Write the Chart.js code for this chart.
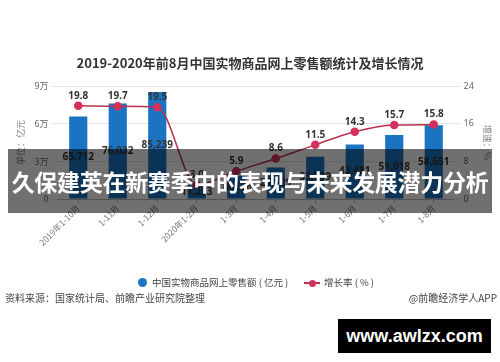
<!DOCTYPE html>
<html><head><meta charset="utf-8">
<script src="https://cdn.jsdelivr.net/npm/chart.js@4.4.1/dist/chart.umd.min.js"></script>
<style>
html,body{margin:0;padding:0;background:#fff;}
#wrap{position:relative;width:500px;height:362px;overflow:hidden;font-family:"Noto Sans CJK SC","Noto Sans",sans-serif;}
canvas{position:absolute;left:0;top:0;}
.t{position:absolute;white-space:nowrap;}
</style></head>
<body>
<div id="wrap">
<canvas id="c" width="500" height="362"></canvas>
<div class="t" style="left:0;width:500px;top:53px;text-align:center;font-size:13px;font-weight:700;color:#333;">2019-2020年前8月中国实物商品网上零售额统计及增长情况</div>
<div class="t" style="left:138px;top:276px;font-size:9.5px;color:#444;line-height:12px;"><span style="display:inline-block;width:9px;height:9px;border-radius:50%;background:#1b74c2;vertical-align:-1px;margin-right:5px;"></span>中国实物商品网上零售额 ( 亿元 )</div>
<div class="t" style="left:304px;top:276px;font-size:9.5px;color:#444;line-height:12px;"><span style="display:inline-block;position:relative;width:16px;height:9px;vertical-align:-1px;margin-right:4px;"><span style="position:absolute;left:0;top:4px;width:16px;height:1.5px;background:#b8324f;"></span><span style="position:absolute;left:4.5px;top:1.5px;width:7px;height:7px;border-radius:50%;background:#d4315a;"></span></span>增长率 ( % )</div>
<div class="t" style="left:5px;top:291px;font-size:10px;color:#444;line-height:14px;">资料来源：国家统计局、前瞻产业研究院整理</div>
<div class="t" style="right:3px;top:291px;font-size:10px;color:#444;line-height:14px;">@前瞻经济学人APP</div>
<div class="t" style="left:8px;top:149px;width:484px;height:64px;background:rgba(0,0,0,0.56);"></div>
<div class="t" style="left:8px;top:166px;width:484px;text-align:center;font-size:23px;font-weight:700;color:#fff;line-height:30px;letter-spacing:-0.3px;">久保建英在新赛季中的表现与未来发展潜力分析</div>
<div class="t" style="left:338px;top:319px;width:153px;height:34px;background:#000;color:#fff;font-family:'Liberation Sans',Arial,sans-serif;font-weight:700;font-size:18px;line-height:34px;text-align:center;">www.awlzx.com</div>
</div>
<script>
const categories = ['2019年1-10月','1-11月','1-12月','2020年1-2月','1-3月','1-4月','1-5月','1-6月','1-7月','1-8月'];
const salesValues = [65712, 76032, 85239, 11233, 18536, 25129, 33739, 43481, 51018, 58651];
const growthValues = [19.8, 19.7, 19.5, 3.0, 5.9, 8.6, 11.5, 14.3, 15.7, 15.8];
const leftTicks = [0, 30000, 60000, 90000];
const rightTicks = [0, 8, 16, 24];

const labelPlugin = {
  id: 'valueLabels',
  afterDatasetsDraw(chart) {
    const ctx = chart.ctx;
    ctx.save();
    ctx.textAlign = 'center';
    ctx.textBaseline = 'middle';
    ctx.fillStyle = '#333';
    ctx.font = 'bold 10px "Noto Sans","Liberation Sans",sans-serif';
    const barMeta = chart.getDatasetMeta(0);
    barMeta.data.forEach((el, i) => {
      const v = salesValues[i].toLocaleString('en-US');
      ctx.fillText(v, el.x, (el.y + el.base) / 2);
    });
    const lineMeta = chart.getDatasetMeta(1);
    lineMeta.data.forEach((el, i) => {
      ctx.fillText(growthValues[i].toFixed(1), el.x, el.y - 10);
    });
    ctx.restore();
  }
};

new Chart(document.getElementById('c'), {
  data: {
    labels: categories,
    datasets: [
      { type: 'bar', data: salesValues, yAxisID: 'y', backgroundColor: '#1b74c2',
        barPercentage: 0.46, categoryPercentage: 1.0, order: 2 },
      { type: 'line', data: growthValues, yAxisID: 'y1', borderColor: '#b8324f', borderWidth: 1.5,
        tension: 0.4, cubicInterpolationMode: 'monotone', pointRadius: 3.5, pointBackgroundColor: '#d4315a',
        pointBorderColor: '#d4315a', order: 1 }
    ]
  },
  options: {
    responsive: false, animation: false, devicePixelRatio: 1,
    layout: { padding: { top: 86, left: 0, right: 0, bottom: 0 } },
    plugins: { legend: { display: false }, tooltip: { enabled: false }, title: { display: false } },
    scales: {
      x: {
        offset: true,
        grid: { display: true, drawOnChartArea: false, offset: false, tickLength: 4, color: '#bbb' },
        border: { display: true, color: '#bbb' },
        ticks: { maxRotation: 45, minRotation: 45, autoSkip: false, color: '#777', padding: 0,
          font: { size: 8.5, family: '"Noto Sans CJK SC",sans-serif' } },
        afterFit(s) { s.height = 163; }
      },
      y: {
        position: 'left', min: 0, max: 90000,
        afterBuildTicks(s) { s.ticks = leftTicks.map(v => ({ value: v })); },
        ticks: { color: '#666', padding: 4, font: { size: 9, family: '"Noto Sans CJK SC",sans-serif' },
          callback: v => v === 0 ? '0' : (v / 10000) + '万' },
        grid: { color: '#e4e4e4', tickLength: 6 },
        border: { display: false },
        title: { display: true, text: '单位：亿元', color: '#888', padding: { top: 15 },
          font: { size: 9, family: '"Noto Sans CJK SC",sans-serif' } },
        afterFit(s) { s.width = 58.5; }
      },
      y1: {
        position: 'right', min: 0, max: 24,
        afterBuildTicks(s) { s.ticks = rightTicks.map(v => ({ value: v })); },
        ticks: { color: '#666', padding: 4, font: { size: 9, family: '"Noto Sans",sans-serif' } },
        grid: { drawOnChartArea: false, color: '#e4e4e4', tickLength: 6 },
        border: { display: false },
        title: { display: true, text: '增速：%', color: '#888', padding: { top: 7 },
          font: { size: 9, family: '"Noto Sans CJK SC",sans-serif' } },
        afterFit(s) { s.width = 46.5; }
      }
    }
  },
  plugins: [labelPlugin]
});
</script>
</body></html>
